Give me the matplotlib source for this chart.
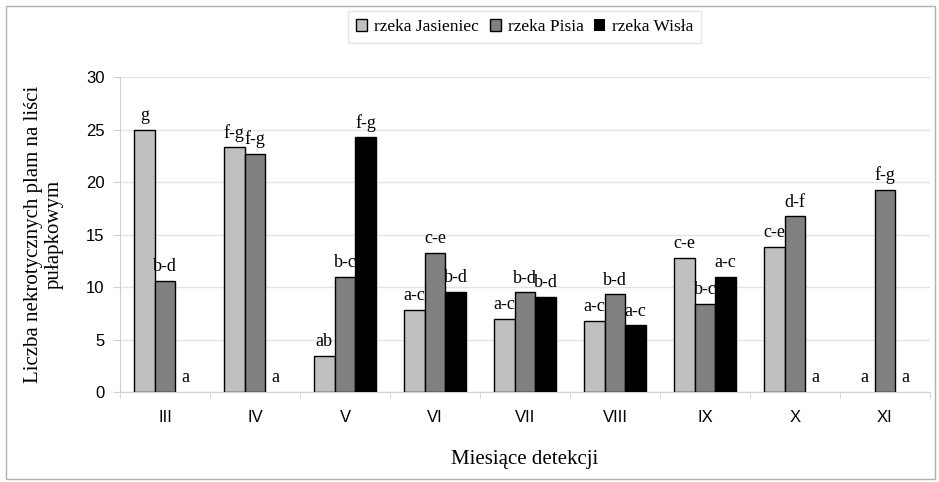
import matplotlib.pyplot as plt
import numpy as np
from matplotlib.patches import Rectangle

# dane
miesiace = ["III", "IV", "V", "VI", "VII", "VIII", "IX", "X", "XI"]
jasieniec = [25.0, 23.3, 3.45, 7.85, 6.95, 6.8, 12.8, 13.85, 0]
pisia = [10.6, 22.7, 11.0, 13.25, 9.5, 9.3, 8.4, 16.75, 19.25]
wisla = [0, 0, 24.25, 9.55, 9.05, 6.35, 10.95, 0, 0]

lit_jasieniec = ["g", "f-g", "ab", "a-c", "a-c", "a-c", "c-e", "c-e", "a"]
lit_pisia = ["b-d", "f-g", "b-c", "c-e", "b-d", "b-d", "b-c", "d-f", "f-g"]
lit_wisla = ["a", "a", "f-g", "b-d", "b-d", "a-c", "a-c", "a", "a"]

SERIF = ["Liberation Serif", "DejaVu Serif"]
SANS = ["Liberation Sans", "DejaVu Sans"]

fig = plt.figure(figsize=(9.39, 4.82), dpi=100)
ax = fig.add_axes([0.1278, 0.1867, 0.8626, 0.6535])

x = np.arange(len(miesiace))
w = 0.23
serie = [
    ("rzeka Jasieniec", jasieniec, lit_jasieniec, "#c0c0c0", -w),
    ("rzeka Pisia", pisia, lit_pisia, "#808080", 0),
    ("rzeka Wisła", wisla, lit_wisla, "#000000", w),
]
for nazwa, vals, lit, kolor, dx in serie:
    bars = ax.bar(x + dx, vals, w, color=kolor, edgecolor="black",
                  linewidth=1.0, label=nazwa, zorder=3)
    for b, v, t in zip(bars, vals, lit):
        if v == 0:
            b.set_linewidth(0)
        ax.annotate(t, (b.get_x() + b.get_width() / 2, v),
                    xytext=(0, 4), textcoords="offset points",
                    ha="center", va="bottom", fontsize=13, family=SERIF,
                    zorder=4)

ax.set_xlim(-0.5, len(miesiace) - 0.5)
ax.set_ylim(0, 30)
ax.set_yticks(range(0, 31, 5))
ax.set_xticks(x)
ax.set_xticklabels(miesiace, family=SANS, fontsize=12)
ax.set_xticks(np.arange(-0.5, len(miesiace), 1), minor=True)
ax.tick_params(axis="x", which="major", length=0, pad=13)
ax.tick_params(axis="x", which="minor", length=4, color="#d0d0d0")
ax.tick_params(axis="y", length=5, color="#d0d0d0", pad=6)
for lbl in ax.get_yticklabels():
    lbl.set_family(SANS)
    lbl.set_fontsize(12)

ax.grid(axis="y", color="#e4e4e4", linewidth=1.0, zorder=0)
for s in ["top", "right"]:
    ax.spines[s].set_visible(False)
ax.spines["left"].set_color("#d0d0d0")
ax.spines["bottom"].set_color("#d0d0d0")

ax.set_ylabel("Liczba nekrotycznych plam na liści\npułapkowym", family=SERIF,
              fontsize=15, labelpad=16, linespacing=1.15)
ax.set_xlabel("Miesiące detekcji", family=SERIF, fontsize=15, labelpad=18)

leg = fig.legend(loc="center", bbox_to_anchor=(0.559, 0.944), ncol=3,
                 prop={"family": SERIF, "size": 12.5}, frameon=True,
                 fancybox=False, edgecolor="#e0e0e0", handlelength=0.65,
                 handleheight=0.65, handletextpad=0.4, columnspacing=0.6,
                 borderpad=0.45)

fig.patches.append(Rectangle((6 / 939, 3 / 482), 929 / 939, 473 / 482,
                             transform=fig.transFigure, fill=False,
                             edgecolor="#b0b0b0", linewidth=1.0))

fig.savefig("out.png", dpi=100)
